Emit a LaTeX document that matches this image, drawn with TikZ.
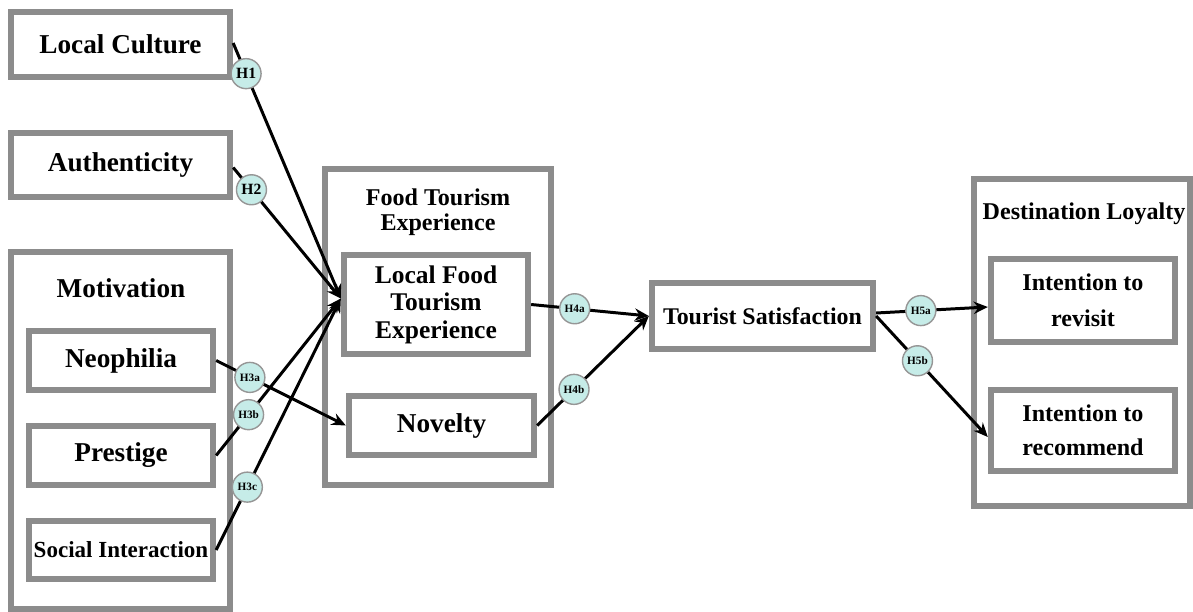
\documentclass[tikz,border=0pt]{standalone}
\usepackage{fontspec}
\setmainfont{Liberation Serif}
\usetikzlibrary{calc}
\usetikzlibrary{arrows.meta}

\definecolor{boxgray}{RGB}{140,140,140}
\definecolor{hypfill}{RGB}{198,236,232}
\definecolor{hypline}{RGB}{150,150,150}

\begin{document}
\begin{tikzpicture}[
    box/.style={draw=boxgray, line width=3.6pt, fill=white, inner sep=0pt, align=center, font=\bfseries\fontsize{15.5}{17}\selectfont},
    groupbox/.style={draw=boxgray, line width=3.6pt, fill=white, inner sep=0pt},
    title/.style={align=center, font=\bfseries\fontsize{13.7}{14.2}\selectfont},
    hyp/.style={circle, draw=hypline, line width=0.8pt, fill=hypfill, minimum size=0.6cm, inner sep=0pt, font=\bfseries\fontsize{6.4}{7}\selectfont},
    link/.style={line width=1.7pt, -{Stealth[length=8pt,width=7pt]}}
  ]
            \useasboundingbox (0,0) rectangle (23.86,-12.24);

            % Antecedents on the left
            \node[box, minimum width=4.38cm, minimum height=1.30cm] (lc) at (2.41,-0.89) {Local Culture};
            \node[box, minimum width=4.38cm, minimum height=1.28cm] (auth) at (2.41,-3.30) {Authenticity};

            % Motivation group
            \node[groupbox, minimum width=4.38cm, minimum height=7.14cm] (mot) at (2.41,-8.61) {};
            \node[title, font=\bfseries\fontsize{15.5}{17}\selectfont] (motl) at (2.42,-5.76) {Motivation};
            \node[box, minimum width=3.68cm, minimum height=1.18cm] (neo) at (2.42,-7.21) {Neophilia};
            \node[box, minimum width=3.68cm, minimum height=1.18cm] (pres) at (2.42,-9.11) {Prestige};
            \node[box, minimum width=3.68cm, minimum height=1.16cm, font=\bfseries\fontsize{13.1}{15}\selectfont] (soc) at (2.42,-11.00) {Social Interaction};

            % Food tourism experience group
            \node[groupbox, minimum width=4.52cm, minimum height=6.32cm] (fte) at (8.76,-6.54) {};
            \node[title] (ftel) at (8.76,-4.24) {Food Tourism\\Experience};
            \node[box, minimum width=3.68cm, minimum height=1.98cm, font=\bfseries\fontsize{14.5}{15.6}\selectfont] (lfte) at (8.72,-6.09) {Local Food\\Tourism\\Experience};
            \node[box, minimum width=3.70cm, minimum height=1.18cm] (nov) at (8.83,-8.51) {Novelty};

            % Satisfaction
            \node[box, minimum width=4.42cm, minimum height=1.32cm, font=\bfseries\fontsize{13.6}{15}\selectfont] (ts) at (15.25,-6.32) {Tourist Satisfaction};

            % Destination loyalty group
            \node[groupbox, minimum width=4.32cm, minimum height=6.54cm] (dl) at (21.64,-6.85) {};
            \node[title] (dll) at (21.68,-4.28) {Destination Loyalty};
            \node[box, minimum width=3.68cm, minimum height=1.66cm, font=\bfseries\fontsize{13.7}{20.5}\selectfont] (rev) at (21.66,-6.01) {Intention to\\revisit};
            \node[box, minimum width=3.68cm, minimum height=1.62cm, font=\bfseries\fontsize{13.7}{19.4}\selectfont] (rec) at (21.66,-8.61) {Intention to\\recommend};

            % Arrow ends
            \coordinate (lfin) at ([yshift=0.12cm]lfte.west);
            \coordinate (revin) at ([yshift=-0.13cm]rev.west);
            \coordinate (recin) at ([yshift=-0.13cm]rec.west);

            % Draw hypothesis paths
            \draw[link] ([yshift=0.03cm]lc.east) -- node[hyp, pos=0.12, font=\bfseries\fontsize{8.9}{10}\selectfont] (h1) {H1} (lfin);
            \draw[link] ([yshift=-0.05cm]auth.east) -- node[hyp, pos=0.17, font=\bfseries\fontsize{8.9}{10}\selectfont] (h2) {H2} (lfin);
            \draw[link] (neo.east) -- node[hyp, pos=0.26] (h3a) {H3a} (nov.west);
            \draw[link] (pres.east) -- node[hyp, pos=0.26] (h3b) {H3b} (lfin);
            \draw[link] (soc.east) -- node[hyp, pos=0.25] (h3c) {H3c} (lfin);
            \draw[link] (lfte.east) -- node[hyp, pos=0.37] (h4a) {H4a} (ts.west);
            \draw[link] (nov.east) -- node[hyp, pos=0.33] (h4b) {H4b} (ts.west);
            \draw[link] ([yshift=0.06cm]ts.east) -- node[hyp, pos=0.40] (h5a) {H5a} (revin);
            \draw[link] (ts.east) -- node[hyp, pos=0.37] (h5b) {H5b} (recin);
        \end{tikzpicture}
\end{document}
